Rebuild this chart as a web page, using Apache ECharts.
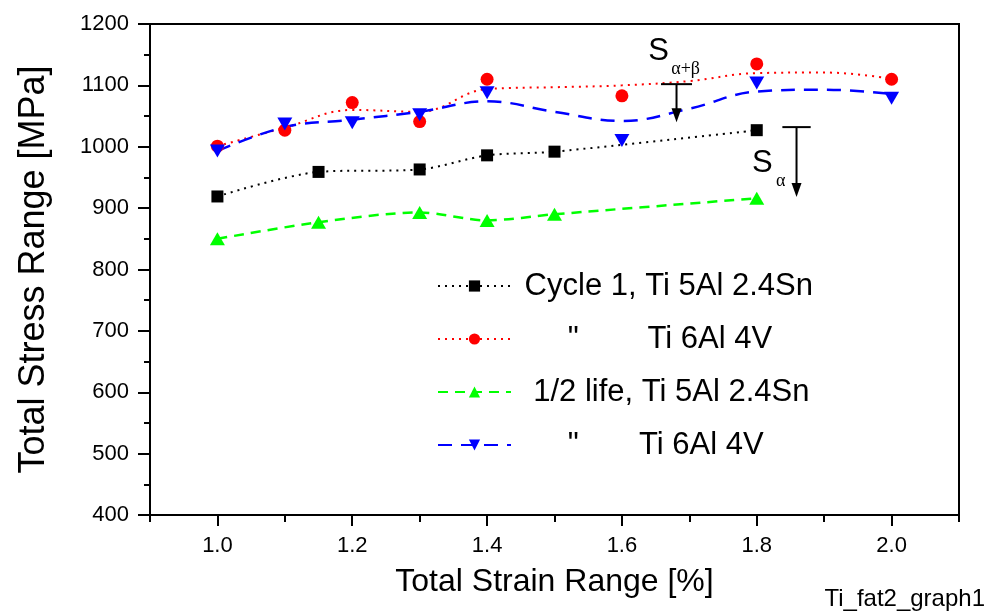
<!DOCTYPE html>
<html>
<head>
<meta charset="utf-8">
<script src="https://cdn.jsdelivr.net/npm/echarts@6/dist/echarts.min.js"></script>
<style>
html,body{margin:0;padding:0;background:#fff;}
#chart{width:986px;height:616px;}
</style>
</head>
<body>
<div id="chart"></div>
<script>
// ---- data ----
const seriesNames = ['Cycle 1, Ti 5Al 2.4Sn', 'Cycle 1, Ti 6Al 4V', '1/2 life, Ti 5Al 2.4Sn', '1/2 life, Ti 6Al 4V'];
const legendLabels = [' Cycle 1, Ti 5Al 2.4Sn', '      "        Ti 6Al 4V', '  1/2 life, Ti 5Al 2.4Sn', '      "       Ti 6Al 4V'];

const xCycle1Sn = [1.0, 1.15, 1.3, 1.4, 1.5, 1.8];
const yCycle1Sn = [919, 959, 963, 986, 992, 1027];

const xCycle1V = [1.0, 1.1, 1.2, 1.3, 1.4, 1.6, 1.8, 2.0];
const yCycle1V = [1001, 1027, 1072, 1041, 1110, 1083, 1135, 1110];

const xHalfSn = [1.0, 1.15, 1.3, 1.4, 1.5, 1.8];
const yHalfSn = [850, 877, 893, 880, 890, 916];

const xHalfV = [1.0, 1.1, 1.2, 1.3, 1.4, 1.6, 1.8, 2.0];
const yHalfV = [993, 1037, 1039, 1052, 1088, 1010, 1104, 1079];

// smoothed fit curves (as drawn in the reference) for the Ti 6Al 4V series
const xFit = [1.0, 1.1, 1.2, 1.3, 1.4, 1.5, 1.6, 1.7, 1.8, 1.9, 2.0];
const yFitCycle1V = [1001, 1031, 1060, 1057, 1094, 1097, 1100, 1107, 1120, 1121, 1111];
const yFitHalfV = [993, 1032, 1044, 1057, 1074, 1057, 1042, 1062, 1090, 1093, 1086];

const xMajorTicks = [1.0, 1.2, 1.4, 1.6, 1.8, 2.0];
const xMinorTicks = [0.9, 1.1, 1.3, 1.5, 1.7, 1.9, 2.1];
const xMin = 0.9, xMax = 2.1;
const yMin = 400, yMax = 1200, yStep = 100;

// annotations: [x, yTop, yTip, barHalfWidth] in data units
const arrowAB = [1.681, 1102, 1040, 0.023];
const arrowA = [1.859, 1032, 918, 0.021];
// label anchors [x, y] in data units
const labelAB = [1.639, 1180];
const labelA = [1.793, 998];

const FONT = "'Liberation Sans', Arial, Helvetica, sans-serif";
const SERIF = "'Liberation Serif', 'DejaVu Serif', serif";

function pairs(xs, ys) { return xs.map((x, i) => [x, ys[i]]); }

const chart = echarts.init(document.getElementById('chart'), null, {renderer: 'canvas'});

const option = {
  backgroundColor: '#fff',
  animation: false,
  grid: {left: 150, top: 24, right: 27, bottom: 101, show: true, borderColor: '#000', borderWidth: 2, backgroundColor: 'transparent'},
  legend: {
    orient: 'vertical',
    left: 437, top: 270, padding: 0,
    itemWidth: 73, itemHeight: 14, itemGap: 21,
    data: seriesNames,
    formatter: function (name) { return legendLabels[seriesNames.indexOf(name)]; },
    textStyle: {fontFamily: FONT, fontSize: 31, color: '#000', lineHeight: 32},
    selectedMode: false
  },
  xAxis: [{
    type: 'value', min: xMin, max: xMax,
    name: 'Total Strain Range [%]', nameLocation: 'middle', nameGap: 51,
    nameTextStyle: {fontFamily: FONT, fontSize: 32, color: '#000'},
    axisLine: {show: true, lineStyle: {color: '#000', width: 2}},
    axisTick: {show: true, inside: false, length: 11, lineStyle: {color: '#000', width: 2}, customValues: xMajorTicks},
    axisLabel: {show: true, customValues: xMajorTicks, formatter: v => v.toFixed(1), fontFamily: FONT, fontSize: 22, color: '#000', margin: 20},
    splitLine: {show: false}
  }, {
    type: 'value', min: xMin, max: xMax, position: 'bottom', gridIndex: 0,
    axisLine: {show: false},
    axisTick: {show: true, inside: false, length: 7, lineStyle: {color: '#000', width: 2}, customValues: xMinorTicks},
    axisLabel: {show: false},
    splitLine: {show: false}
  }],
  yAxis: {
    type: 'value', min: yMin, max: yMax, interval: yStep,
    name: 'Total Stress Range [MPa]', nameLocation: 'middle', nameGap: 98,
    nameTextStyle: {fontFamily: FONT, fontSize: 36, color: '#000'},
    axisLine: {show: true, lineStyle: {color: '#000', width: 2}},
    axisTick: {show: true, inside: false, length: 12, lineStyle: {color: '#000', width: 2}},
    minorTick: {show: true, splitNumber: 2, length: 6, lineStyle: {color: '#000', width: 2}},
    axisLabel: {fontFamily: FONT, fontSize: 22, color: '#000', margin: 21, formatter: v => String(v)},
    splitLine: {show: false}
  },
  series: [
    {
      name: seriesNames[0], type: 'line', smooth: 0.3,
      data: pairs(xCycle1Sn, yCycle1Sn),
      symbol: 'rect', symbolSize: 12,
      itemStyle: {color: '#000'},
      lineStyle: {color: '#000', width: 2, type: [2, 5]},
      z: 5
    },
    {
      name: seriesNames[1], type: 'line', smooth: 0.4,
      data: pairs(xFit, yFitCycle1V),
      symbol: 'circle', symbolSize: 13, showSymbol: false,
      itemStyle: {color: '#ff0000'},
      lineStyle: {color: '#ff0000', width: 2, type: [2, 5]},
      z: 3
    },
    {
      name: seriesNames[2], type: 'line', smooth: 0.3,
      data: pairs(xHalfSn, yHalfSn),
      symbol: 'triangle', symbolSize: [15, 13],
      itemStyle: {color: '#00ff00'},
      lineStyle: {color: '#00ff00', width: 2.5, type: [10, 7]},
      z: 4
    },
    {
      name: seriesNames[3], type: 'line', smooth: 0.4,
      data: pairs(xFit, yFitHalfV),
      symbol: 'triangle', symbolRotate: 180, symbolSize: [15, 13], showSymbol: false,
      itemStyle: {color: '#0000ff'},
      lineStyle: {color: '#0000ff', width: 2.5, type: [14, 9]},
      z: 3
    },
    {
      name: seriesNames[1] + ' points', type: 'scatter',
      data: pairs(xCycle1V, yCycle1V),
      symbol: 'circle', symbolSize: 13,
      itemStyle: {color: '#ff0000', opacity: 1},
      z: 6
    },
    {
      name: seriesNames[3] + ' points', type: 'scatter',
      data: pairs(xHalfV, yHalfV),
      symbol: 'triangle', symbolRotate: 180, symbolSize: [15, 13],
      itemStyle: {color: '#0000ff', opacity: 1},
      z: 7
    }
  ]
};

chart.setOption(option);

function arrowGraphics(a) {
  const top = chart.convertToPixel({gridIndex: 0}, [a[0], a[1]]);
  const tip = chart.convertToPixel({gridIndex: 0}, [a[0], a[2]]);
  const l = chart.convertToPixel({gridIndex: 0}, [a[0] - a[3], a[1]]);
  const r = chart.convertToPixel({gridIndex: 0}, [a[0] + a[3], a[1]]);
  return [
    {type: 'line', shape: {x1: l[0], y1: l[1], x2: r[0], y2: r[1]}, style: {stroke: '#000', lineWidth: 2}, z: 20},
    {type: 'line', shape: {x1: top[0], y1: top[1], x2: tip[0], y2: tip[1] - 10}, style: {stroke: '#000', lineWidth: 2}, z: 20},
    {type: 'polygon', shape: {points: [[tip[0], tip[1]], [tip[0] - 5, tip[1] - 14], [tip[0] + 5, tip[1] - 14]]}, style: {fill: '#000'}, z: 20}
  ];
}

const pS1 = chart.convertToPixel({gridIndex: 0}, labelAB);
const pS2 = chart.convertToPixel({gridIndex: 0}, labelA);

const graphics = [].concat(
  arrowGraphics(arrowAB),
  arrowGraphics(arrowA),
  [
    {type: 'text', x: pS1[0], y: pS1[1], style: {text: 'S', font: '31px ' + FONT, fill: '#000', align: 'left', verticalAlign: 'top'}, z: 20},
    {type: 'text', x: pS1[0] + 23, y: pS1[1] + 24, style: {text: 'α+β', font: '18px ' + SERIF, fill: '#000', align: 'left', verticalAlign: 'top'}, z: 20},
    {type: 'text', x: pS2[0], y: pS2[1], style: {text: 'S', font: '31px ' + FONT, fill: '#000', align: 'left', verticalAlign: 'top'}, z: 20},
    {type: 'text', x: pS2[0] + 24, y: pS2[1] + 24, style: {text: 'α', font: '18px ' + SERIF, fill: '#000', align: 'left', verticalAlign: 'top'}, z: 20},
    {type: 'text', right: 1, bottom: 5, style: {text: 'Ti_fat2_graph1', font: '24px ' + FONT, fill: '#000'}, z: 20}
  ]
);

chart.setOption({graphic: graphics});
</script>
</body>
</html>
